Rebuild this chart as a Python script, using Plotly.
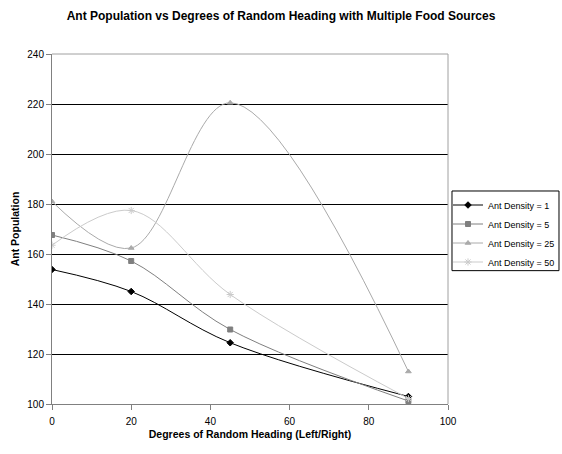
import plotly.graph_objects as go

# Degrees of random heading (left/right)
headings = [0, 20, 45, 90]

# Ant population for each ant density
density_1 = [153.8, 145.0, 124.5, 103.0]
density_5 = [167.6, 157.2, 129.8, 101.2]
density_25 = [181.0, 162.4, 220.5, 113.0]
density_50 = [163.5, 177.4, 143.8, 102.2]

series_names = ["Ant Density = 1", "Ant Density = 5", "Ant Density = 25", "Ant Density = 50"]
series_values = [density_1, density_5, density_25, density_50]
colors = ["#000000", "#7f7f7f", "#aaaaaa", "#cbcbcb"]
symbols = ["diamond", "square", "triangle-up", "asterisk-open"]
sizes = [5, 5, 5, 6]

fig = go.Figure()
for name, vals, c, s, sz in zip(series_names, series_values, colors, symbols, sizes):
    fig.add_trace(go.Scatter(
        x=headings, y=vals, name=name, mode="lines+markers",
        line=dict(color=c, width=1, shape="spline", smoothing=1.0),
        marker=dict(symbol=s, size=sz, color=c, line=dict(color=c, width=1)),
    ))

fig.update_layout(
    width=562, height=454,
    margin=dict(l=52, r=114, t=54, b=50, autoexpand=False),
    paper_bgcolor="white", plot_bgcolor="white",
    font=dict(family="Liberation Sans, Arial", size=10, color="#000000"),
    title=dict(
        text="<b>Ant Population vs Degrees of Random Heading with Multiple Food Sources</b>",
        x=0.5, xref="container", xanchor="center", y=0.966, yanchor="middle",
        font=dict(size=12, family="Liberation Sans, Arial"),
    ),
    xaxis=dict(
        range=[0, 100], dtick=20, showgrid=False,
        showline=True, linecolor="#808080", linewidth=1, mirror=False,
        ticks="outside", ticklen=5, tickcolor="#808080", ticklabelstandoff=3,
        title=dict(text="<b>Degrees of Random Heading (Left/Right)</b>", standoff=4,
                   font=dict(size=10.5)),
        zeroline=False,
    ),
    yaxis=dict(
        range=[100, 240], dtick=20, showgrid=True, gridcolor="#000000", gridwidth=1,
        showline=True, linecolor="#808080", linewidth=1,
        ticks="outside", ticklen=5, tickcolor="#808080",
        title=dict(text="<b>Ant Population</b>", standoff=5, font=dict(size=10.5)),
        zeroline=False,
    ),
    legend=dict(
        x=1.0, y=0.61, xanchor="left", yanchor="top", xref="paper",
        borderwidth=0, bgcolor="rgba(0,0,0,0)",
        font=dict(size=9), tracegroupgap=0, itemwidth=30,
    ),
    showlegend=True,
)

# gray frame on top and right of the plot area
fig.add_shape(type="line", xref="paper", yref="paper", x0=0, x1=1, y0=1, y1=1,
              line=dict(color="#a0a0a0", width=1))
fig.add_shape(type="line", xref="paper", yref="paper", x0=1, x1=1, y0=0, y1=1,
              line=dict(color="#a0a0a0", width=1))
# legend frame
fig.add_shape(type="rect", xref="paper", yref="paper",
              x0=1.0101, x1=1.2803, y0=0.381, y1=0.6086,
              line=dict(color="#000000", width=1), fillcolor="rgba(0,0,0,0)")

fig.write_html("out.html")
